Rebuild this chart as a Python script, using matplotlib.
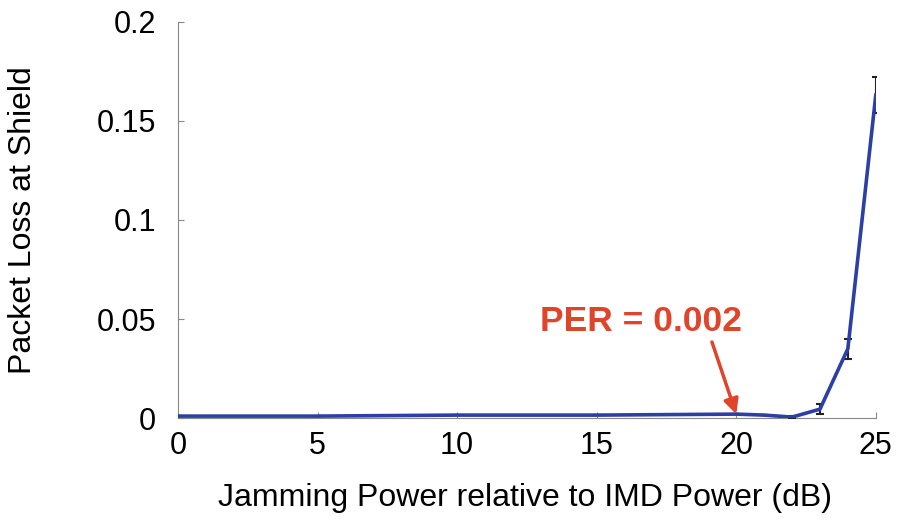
import matplotlib.pyplot as plt

plt.rcParams['font.family'] = ['Liberation Sans', 'DejaVu Sans']

# jamming power (dB above IMD power) and measured packet loss
power_db = [0, 5, 10, 15, 20, 21, 22, 23, 24, 25]
packet_loss = [0.001, 0.001, 0.0015, 0.0015, 0.002, 0.0015, 0.0005, 0.0045, 0.035, 0.163]
loss_err = [0, 0, 0, 0, 0, 0, 0.0005, 0.0025, 0.005, 0.009]

xticks = [0, 5, 10, 15, 20, 25]
yticks = [0, 0.05, 0.1, 0.15, 0.2]
ytick_labels = ['0', '0.05', '0.1', '0.15', '0.2']

per_x, per_y = 20, 0.002
red = '#e0452b'

fig = plt.figure(figsize=(9.01, 5.2), dpi=100)
ax = fig.add_axes([0.1976, 0.196, 0.7744, 0.762])

ax.errorbar(power_db, packet_loss, yerr=loss_err, color='#2b3fa6', lw=2.6,
            ecolor='#222222', elinewidth=1.5, capsize=3, capthick=1.5, zorder=3)

ax.set_xlim(0, 25)
ax.set_ylim(0, 0.2)
ax.set_xticks(xticks)
ax.set_yticks(yticks)
ax.set_yticklabels(ytick_labels)
ax.tick_params(direction='in', length=4, width=0.8, color='#888888', labelsize=22)
ax.tick_params(axis='x', pad=9)
ax.tick_params(axis='y', pad=16)
for side in ('top', 'right'):
    ax.spines[side].set_visible(False)
for side in ('left', 'bottom'):
    ax.spines[side].set_color('#888888')
    ax.spines[side].set_linewidth(0.8)
ax.spines['bottom'].set_zorder(1)

ax.set_xlabel('Jamming Power relative to IMD Power (dB)', fontsize=23)
ax.set_ylabel('Packet Loss at Shield', fontsize=23)
ax.xaxis.set_label_coords(0.497, -0.165)
ax.yaxis.set_label_coords(-0.2, 0.5)

# callout for the error rate at 20 dB
ax.text(16.58, 0.0485, 'PER = 0.002', ha='center', va='center',
        fontsize=25.5, fontweight='bold', color=red)
ax.annotate('', xy=(per_x, per_y), xytext=(19.13, 0.0384),
            arrowprops=dict(arrowstyle='-|>', color=red, lw=2.5,
                            mutation_scale=22, shrinkA=0, shrinkB=0))

fig.savefig('out.png', dpi=100)
